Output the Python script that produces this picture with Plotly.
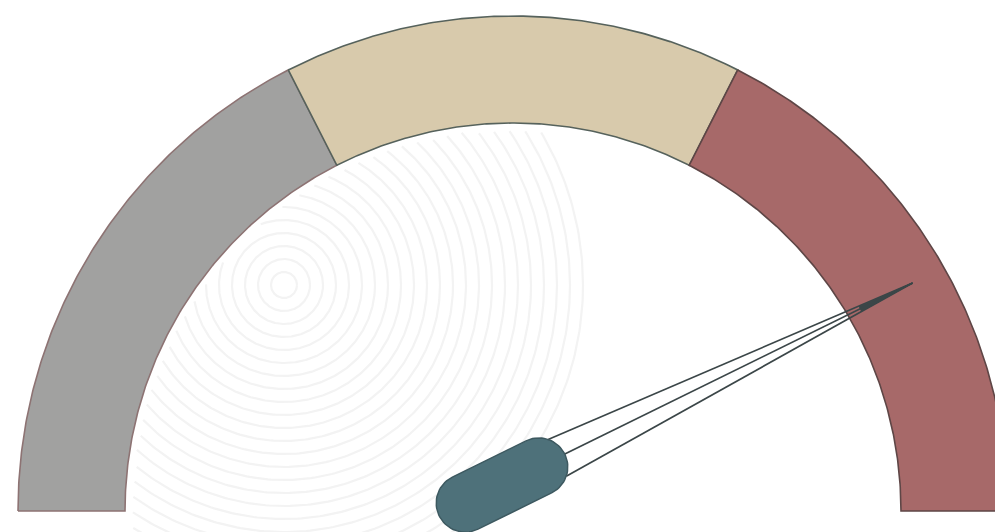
import numpy as np
import plotly.graph_objects as go

# ---- data ----
band_names = ["Low", "Medium", "High"]
band_starts = [0, 35, 65]
band_ends = [35, 65, 100]
needle_value = 83.5
gauge_min = 0
gauge_max = 100

# ---- style ----
band_colors = ["#a1a1a0", "#d8caac", "#a76969"]
band_edges = ["#8d7373", "#56625c", "#5e4646"]
R_OUT, R_IN = 495, 388
TIP_R = 460
PIVOT = np.array([-11.0, 26.0])
CAP_L, CAP_W = 140, 58
CAP_COLOR = "#4e717a"
CAP_EDGE = "#3d5960"
NEEDLE_COLOR = "#3b4648"
SWIRL_CENTER = np.array([-229.0, 226.0])
SWIRL_COLOR = "#f3f3f3"


def ang(v):
    return np.pi * (1 - (v - gauge_min) / (gauge_max - gauge_min))


fig = go.Figure()

# faint decorative background swirl, kept inside the gauge's inner arc
sx, sy = [], []
a = np.linspace(0, 2 * np.pi, 400)
for k in range(1, 24):
    r = 13 * k
    cx = SWIRL_CENTER[0] + r * np.cos(a)
    cy = SWIRL_CENTER[1] + r * np.sin(a)
    inside = (np.hypot(cx, cy) < R_IN - 6) & (cy > -30)
    cx = np.where(inside, cx, np.nan)
    cy = np.where(inside, cy, np.nan)
    sx += list(cx) + [np.nan]
    sy += list(cy) + [np.nan]
fig.add_trace(go.Scatter(x=sx, y=sy, mode="lines", line=dict(color=SWIRL_COLOR, width=2.2),
                         hoverinfo="skip", showlegend=False, connectgaps=False))

for s, e, c, ec, nm in zip(band_starts, band_ends, band_colors, band_edges, band_names):
    t = np.linspace(ang(s), ang(e), 160)
    x = np.concatenate([R_OUT * np.cos(t), R_IN * np.cos(t[::-1]), [R_OUT * np.cos(t[0])]])
    y = np.concatenate([R_OUT * np.sin(t), R_IN * np.sin(t[::-1]), [R_OUT * np.sin(t[0])]])
    fig.add_trace(go.Scatter(x=x, y=y, mode="lines", fill="toself", fillcolor=c,
                             line=dict(color=ec, width=1.6), hoverinfo="skip", name=nm,
                             showlegend=False))

# needle
th = ang(needle_value)
tip = np.array([TIP_R * np.cos(th), TIP_R * np.sin(th)])
d = tip - PIVOT
u = d / np.linalg.norm(d)
n = np.array([-u[1], u[0]])
half = CAP_L / 2 - CAP_W / 2
E1 = PIVOT - half * u
E2 = PIVOT + half * u
rw = CAP_W / 2
phi1 = np.linspace(-np.pi / 2, np.pi / 2, 40)
phi2 = np.linspace(np.pi / 2, 3 * np.pi / 2, 40)
pts = [E2 + rw * (np.cos(p) * u + np.sin(p) * n) for p in phi1]
pts += [E1 + rw * (np.cos(p) * u + np.sin(p) * n) for p in phi2]
pts.append(pts[0])
pts = np.array(pts)

for p in [np.pi / 4, 0.0, -np.pi / 4]:
    st = E2 + rw * (np.cos(p) * u + np.sin(p) * n)
    fig.add_trace(go.Scatter(x=[st[0], tip[0]], y=[st[1], tip[1]], mode="lines",
                             line=dict(color=NEEDLE_COLOR, width=1.7), hoverinfo="skip",
                             showlegend=False))

base = E2 + 0.86 * (tip - E2)
w = 2.6
tri = np.array([base + w * n, tip, base - w * n, base + w * n])
fig.add_trace(go.Scatter(x=tri[:, 0], y=tri[:, 1], mode="lines", fill="toself",
                         fillcolor=NEEDLE_COLOR, line=dict(color=NEEDLE_COLOR, width=0.8),
                         hoverinfo="skip", showlegend=False))

fig.add_trace(go.Scatter(x=pts[:, 0], y=pts[:, 1], mode="lines", fill="toself",
                         fillcolor=CAP_COLOR, line=dict(color=CAP_EDGE, width=1.5),
                         hoverinfo="skip", showlegend=False))

# page has an 8px body margin: figure sits at (8, 8) in the window
fig.update_layout(
    width=995, height=524,
    margin=dict(l=0, r=0, t=0, b=0),
    paper_bgcolor="white", plot_bgcolor="white",
    xaxis=dict(range=[-505, 490], visible=False, fixedrange=True),
    yaxis=dict(range=[-21, 503], visible=False, fixedrange=True),
    showlegend=False,
)

fig.write_html("out.html")
